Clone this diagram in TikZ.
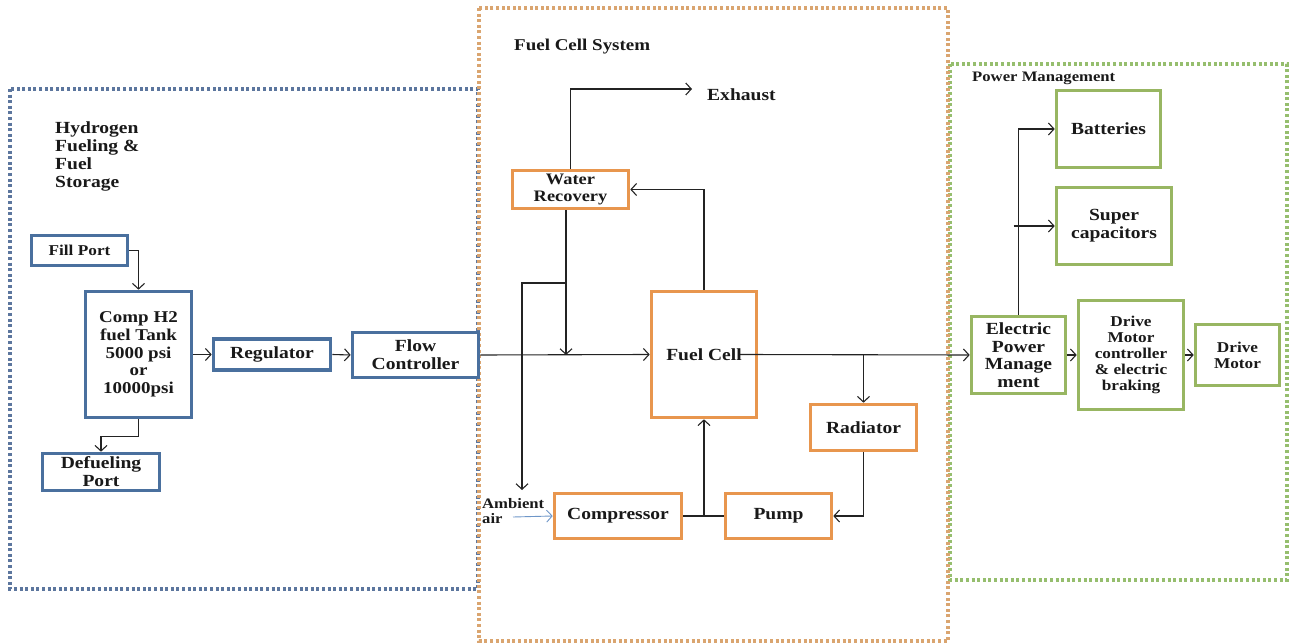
\documentclass[tikz,border=0pt]{standalone}
\usepackage{fontspec}
\setmainfont{Liberation Serif}[FakeStretch=1.15]
\usetikzlibrary{arrows.meta,calc}
\definecolor{boxblue}{RGB}{74,112,158}
\definecolor{boxorange}{RGB}{232,150,78}
\definecolor{boxgreen}{RGB}{152,182,98}
\definecolor{dotblue}{RGB}{92,118,158}
\definecolor{dotorange}{RGB}{218,165,112}
\definecolor{dotgreen}{RGB}{150,190,110}
\definecolor{linegray}{RGB}{35,35,35}
\definecolor{airblue}{RGB}{110,150,200}
\definecolor{txt}{RGB}{25,25,25}
\tikzset{
  bx/.style={draw, line width=3.6pt, fill=white, align=center, inner sep=1pt, text=txt,
    font=\bfseries\fontsize{17}{18}\selectfont},
  bluebox/.style={bx, draw=boxblue},
  orangebox/.style={bx, draw=boxorange},
  greenbox/.style={bx, draw=boxgreen},
  grp/.style={line width=3.2pt, dash pattern=on 3pt off 2.6pt},
  lbl/.style={text=txt, inner sep=0pt, align=left},
  arr/.style={-{Straight Barb[length=5.5pt,width=12pt]}, line width=1.1pt, draw=linegray},
  ln/.style={line width=1.1pt, draw=linegray},
}
\begin{document}
\begin{tikzpicture}[x=1pt,y=-1pt]
\useasboundingbox (0,0) rectangle (1291,644);
% group frames
\draw[grp, draw=dotblue] (10,89) rectangle (478,589);
\draw[grp, draw=dotgreen] (950,64) rectangle (1287,580);
\draw[grp, draw=dotorange] (479,8) rectangle (948,641);

% titles
\node[lbl, anchor=north west, font=\bfseries\fontsize{17}{17.7}\selectfont] (thyd) at (55,122) {Hydrogen\\Fueling \&\\Fuel\\Storage};
\node[lbl, anchor=west, font=\bfseries\fontsize{16.5}{18}\selectfont] (tfcs) at (514,47) {Fuel Cell System};
\node[lbl, anchor=west, font=\bfseries\fontsize{14.5}{16}\selectfont] (tpm) at (972,78) {Power Management};
\node[lbl, anchor=west, font=\bfseries\fontsize{17}{18}\selectfont] (exhaust) at (707,95) {Exhaust};
\node[lbl, anchor=north west, font=\bfseries\fontsize{14.5}{15}\selectfont] (ambient) at (482,498) {Ambient\\air};

% blue nodes
\node[bluebox, minimum width=96, minimum height=30, font=\bfseries\fontsize{15}{17}\selectfont] (fill) at (79.5,250.5) {Fill Port};
\node[bluebox, minimum width=106, minimum height=126, font=\bfseries\fontsize{16.5}{17.7}\selectfont] (tank) at (138.5,354.5) {Comp H2\\fuel Tank\\5000 psi\\or\\10000psi};
\node[bluebox, minimum width=117, minimum height=31] (reg) at (272,354.5) {Regulator};
\node[bluebox, minimum width=126, minimum height=45] (flow) at (415.5,355) {Flow\\Controller};
\node[bluebox, minimum width=117, minimum height=37] (defuel) at (101,472) {Defueling\\Port};

% orange nodes
\node[orangebox, minimum width=116, minimum height=38, font=\bfseries\fontsize{16}{17.5}\selectfont] (water) at (570.5,189.5) {Water\\Recovery};
\node[orangebox, minimum width=105, minimum height=126] (fc) at (704,354.5) {Fuel Cell};
\node[orangebox, minimum width=106, minimum height=46] (rad) at (863.5,427.5) {Radiator};
\node[orangebox, minimum width=127, minimum height=45] (comp) at (618,516) {Compressor};
\node[orangebox, minimum width=106, minimum height=45] (pump) at (778.5,516) {Pump};

% green nodes
\node[greenbox, minimum width=104, minimum height=77] (bat) at (1108.5,129) {Batteries};
\node[greenbox, minimum width=115, minimum height=77] (sup) at (1114,226) {Super\\capacitors};
\node[greenbox, minimum width=94, minimum height=77, font=\bfseries\fontsize{17}{17.5}\selectfont] (epm) at (1018.5,355) {Electric\\Power\\Manage\\ment};
\node[greenbox, minimum width=105, minimum height=109, font=\bfseries\fontsize{15}{16.2}\selectfont] (dmc) at (1131,355) {Drive\\Motor\\controller\\\& electric\\braking};
\node[greenbox, minimum width=84, minimum height=61, font=\bfseries\fontsize{15}{16.2}\selectfont] (dm) at (1237.5,355) {Drive\\Motor};

% coordinates
\coordinate (exh) at (692,89);
\coordinate (j1) at (566,355);
\coordinate (j2) at (566,283);
\coordinate (amb) at (522,490);
\coordinate (ambst) at (513,517);

% hydrogen connectors
\draw[arr] (fill.east) -| (tank.north);
\draw[arr] (tank.south) -- ++(0,17) -| (defuel.north);
\draw[arr] (tank.east) -- (reg.west);
\draw[arr] (reg.east) -- (flow.west);
\draw[arr] (flow.east) -- (fc.west);

% fuel cell system connectors
\draw[arr] (water.north) |- (exh);
\draw[arr] (fc.north) |- (water.east);
\draw[arr] ([xshift=-4.5pt]water.south) -- (j1);
\draw[arr] (j2) -| (amb);
\draw[-{Straight Barb[length=5.5pt,width=12pt]}, line width=0.9pt, draw=airblue] (ambst) -- (comp.west);
\draw[ln] (comp.east) -- (pump.west);
\draw[arr] (comp.east -| fc.south) -- (fc.south);
\draw[arr] ([xshift=36pt]fc.center) -- (epm.west);
\draw[arr] (rad.north |- fc.center) -- (rad.north);
\draw[arr] (rad.south) |- (pump.east);

% power management connectors
\draw[arr] (epm.north) |- (bat.west);
\draw[arr] ($(epm.north |- sup.west)+(-5,0)$) -- (sup.west);
\draw[arr] (epm.east) -- (dmc.west);
\draw[arr] (dmc.east) -- (dm.west);
\end{tikzpicture}
\end{document}
